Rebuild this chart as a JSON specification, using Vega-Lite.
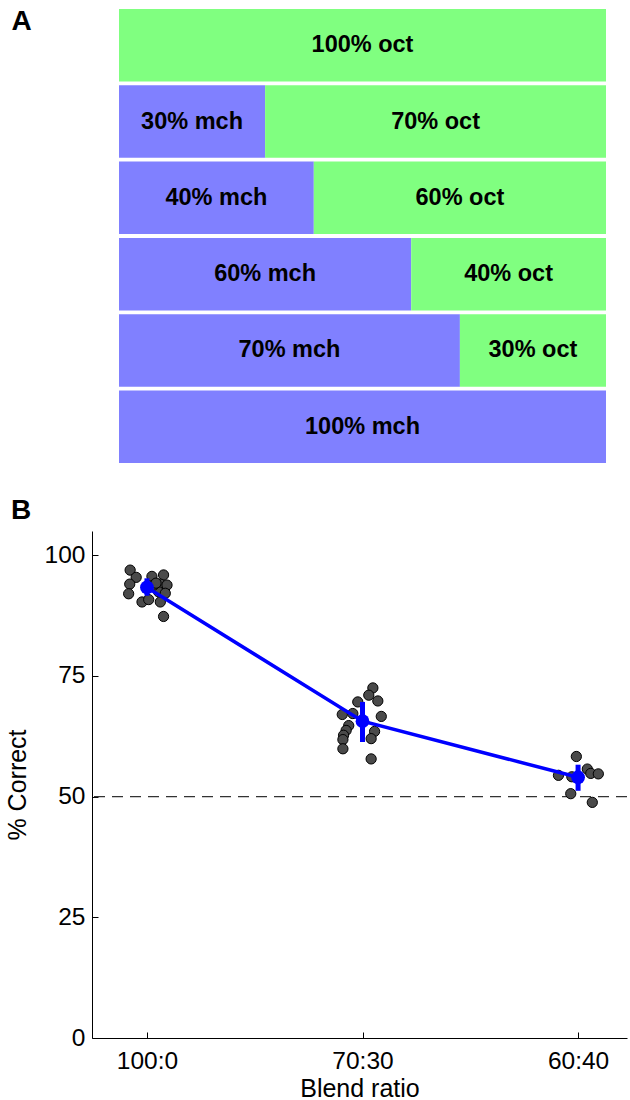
{
  "$schema": "https://vega.github.io/schema/vega-lite/v6.json",
  "padding": {"left": 5, "top": 7, "right": 2, "bottom": 0},
  "spacing": 34,
  "config": {"font": "Liberation Sans", "view": {"stroke": null}, "axis": {"grid": false}},
  "vconcat": [
    {
      "width": 514,
      "height": 454,
      "data": {"values": [
        {"row": 1, "stim": "oct", "pct": 100, "label": "100% oct"},
        {"row": 2, "stim": "mch", "pct": 30, "label": "30% mch"},
        {"row": 2, "stim": "oct", "pct": 70, "label": "70% oct"},
        {"row": 3, "stim": "mch", "pct": 40, "label": "40% mch"},
        {"row": 3, "stim": "oct", "pct": 60, "label": "60% oct"},
        {"row": 4, "stim": "mch", "pct": 60, "label": "60% mch"},
        {"row": 4, "stim": "oct", "pct": 40, "label": "40% oct"},
        {"row": 5, "stim": "mch", "pct": 70, "label": "70% mch"},
        {"row": 5, "stim": "oct", "pct": 30, "label": "30% oct"},
        {"row": 6, "stim": "mch", "pct": 100, "label": "100% mch"}
      ]},
      "transform": [
        {"stack": "pct", "groupby": ["row"], "sort": [{"field": "stim", "order": "ascending"}], "as": ["x0", "x1"]},
        {"calculate": "(datum.x0 + datum.x1) / 2", "as": "mid"}
      ],
      "encoding": {
        "y": {"field": "row", "type": "ordinal", "scale": {"paddingInner": 0.05, "paddingOuter": 0},
          "axis": {"title": "A", "labels": false, "ticks": false, "domain": false, "titleAngle": 0, "titleX": -81, "titleY": -2,
            "titleAlign": "left", "titleBaseline": "top", "titleFontSize": 28, "titleFontWeight": "bold", "titleColor": "black"}}
      },
      "layer": [
        {
          "mark": {"type": "bar"},
          "encoding": {
            "x": {"field": "x0", "type": "quantitative", "scale": {"domain": [-5.544, 100], "nice": false, "zero": false}, "axis": null},
            "x2": {"field": "x1"},
            "color": {"field": "stim", "type": "nominal", "scale": {"domain": ["mch", "oct"], "range": ["#8080ff", "#80ff80"]}, "legend": null}
          }
        },
        {
          "mark": {"type": "text", "fontSize": 23.5, "fontWeight": "bold", "color": "black"},
          "encoding": {
            "x": {"field": "mid", "type": "quantitative"},
            "text": {"field": "label"}
          }
        }
      ]
    },
    {
      "width": 535,
      "height": 507,
      "title": {"text": "B", "anchor": "start", "frame": "group", "dx": -81, "fontSize": 28, "fontWeight": "bold", "offset": 6, "color": "black"},
      "layer": [
        {
          "data": {"values": [{"y": 50}]},
          "mark": {"type": "rule", "strokeDash": [11, 7], "color": "#333", "strokeWidth": 1.2},
          "encoding": {"y": {"field": "y", "type": "quantitative"}}
        },
        {
          "data": {"values": [
            {"cond": "100:0", "pos": 0.922, "pct": 96.9},
            {"cond": "100:0", "pos": 0.950, "pct": 95.4},
            {"cond": "100:0", "pos": 0.920, "pct": 94.0},
            {"cond": "100:0", "pos": 0.915, "pct": 92.0},
            {"cond": "100:0", "pos": 1.023, "pct": 95.6},
            {"cond": "100:0", "pos": 1.077, "pct": 95.9},
            {"cond": "100:0", "pos": 1.062, "pct": 94.0},
            {"cond": "100:0", "pos": 1.093, "pct": 93.8},
            {"cond": "100:0", "pos": 1.054, "pct": 92.4},
            {"cond": "100:0", "pos": 1.085, "pct": 92.1},
            {"cond": "100:0", "pos": 0.977, "pct": 90.3},
            {"cond": "100:0", "pos": 1.008, "pct": 90.8},
            {"cond": "100:0", "pos": 1.077, "pct": 87.3},
            {"cond": "100:0", "pos": 1.062, "pct": 90.3},
            {"cond": "100:0", "pos": 1.031, "pct": 93.8},
            {"cond": "100:0", "pos": 1.042, "pct": 94.2},
            {"cond": "70:30", "pos": 2.048, "pct": 72.5},
            {"cond": "70:30", "pos": 2.029, "pct": 71.0},
            {"cond": "70:30", "pos": 2.071, "pct": 69.8},
            {"cond": "70:30", "pos": 1.978, "pct": 69.6},
            {"cond": "70:30", "pos": 1.906, "pct": 67.0},
            {"cond": "70:30", "pos": 1.955, "pct": 67.2},
            {"cond": "70:30", "pos": 2.087, "pct": 66.6},
            {"cond": "70:30", "pos": 1.936, "pct": 64.7},
            {"cond": "70:30", "pos": 1.924, "pct": 63.7},
            {"cond": "70:30", "pos": 1.912, "pct": 62.7},
            {"cond": "70:30", "pos": 1.909, "pct": 61.8},
            {"cond": "70:30", "pos": 2.056, "pct": 63.5},
            {"cond": "70:30", "pos": 2.040, "pct": 62.0},
            {"cond": "70:30", "pos": 1.909, "pct": 59.9},
            {"cond": "70:30", "pos": 2.040, "pct": 57.8},
            {"cond": "60:40", "pos": 2.992, "pct": 58.3},
            {"cond": "60:40", "pos": 2.909, "pct": 54.4},
            {"cond": "60:40", "pos": 3.043, "pct": 55.7},
            {"cond": "60:40", "pos": 3.059, "pct": 54.8},
            {"cond": "60:40", "pos": 3.094, "pct": 54.7},
            {"cond": "60:40", "pos": 2.971, "pct": 54.1},
            {"cond": "60:40", "pos": 2.966, "pct": 50.6},
            {"cond": "60:40", "pos": 3.066, "pct": 48.8}
          ]},
          "mark": {"type": "circle", "size": 105, "fill": "#4a4a4a", "stroke": "#000", "strokeWidth": 1, "opacity": 1},
          "encoding": {
            "x": {"field": "pos", "type": "quantitative", "scale": {"domain": [0.745, 3.227], "nice": false, "zero": false},
              "axis": {"values": [1, 2, 3], "labelExpr": "datum.value == 1 ? '100:0' : datum.value == 2 ? '70:30' : '60:40'",
                "title": "Blend ratio", "tickSize": -6, "labelFontSize": 24.5, "titleFontSize": 25, "titleFontWeight": "normal",
                "labelPadding": 17, "titlePadding": 4, "domainColor": "black", "tickColor": "black", "labelColor": "black", "titleColor": "black"}},
            "y": {"field": "pct", "type": "quantitative", "scale": {"domain": [0, 105], "nice": false},
              "axis": {"values": [0, 25, 50, 75, 100], "title": "% Correct", "tickSize": -6, "labelFontSize": 24.5, "titleFontSize": 25,
                "titleFontWeight": "normal", "labelPadding": 13, "titlePadding": 14, "domainColor": "black", "tickColor": "black",
                "labelColor": "black", "titleColor": "black"}}
          }
        },
        {
          "data": {"values": [
            {"cond": "100:0", "pos": 1, "mean": 93.3, "lo": 91.6, "hi": 95.2},
            {"cond": "70:30", "pos": 2, "mean": 65.6, "lo": 61.3, "hi": 69.6},
            {"cond": "60:40", "pos": 3, "mean": 54.0, "lo": 51.2, "hi": 56.6}
          ]},
          "encoding": {
            "x": {"field": "pos", "type": "quantitative"},
            "y": {"field": "mean", "type": "quantitative"}
          },
          "layer": [
            {"mark": {"type": "line", "color": "#0000ff", "strokeWidth": 3.5}},
            {"mark": {"type": "rule", "color": "#0000ff", "strokeWidth": 5}, "encoding": {"y": {"field": "lo", "type": "quantitative"}, "y2": {"field": "hi"}}},
            {"mark": {"type": "circle", "size": 190, "fill": "#0000ff", "opacity": 1}}
          ]
        }
      ]
    }
  ]
}
